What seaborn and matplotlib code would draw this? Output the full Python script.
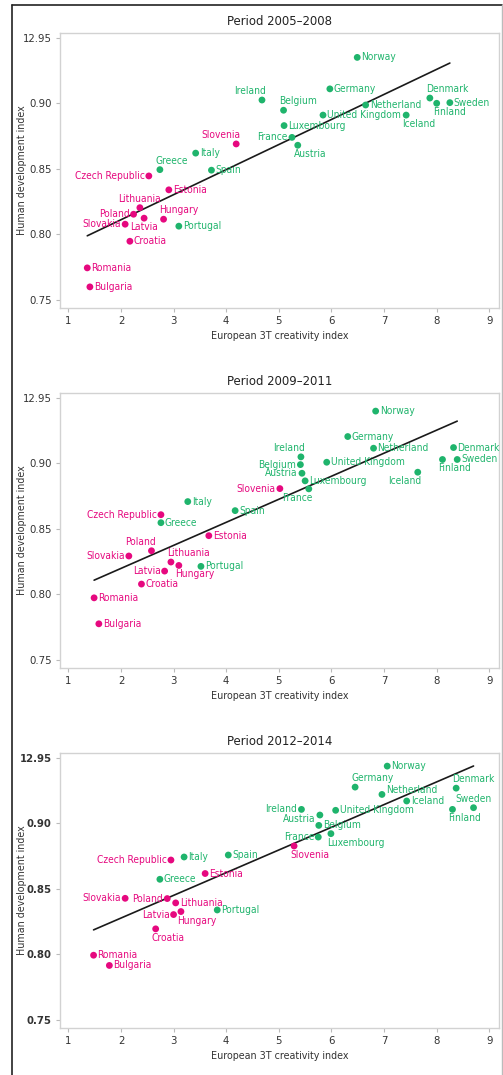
import matplotlib
matplotlib.use("Agg")
import matplotlib.pyplot as plt
from matplotlib import font_manager
from matplotlib.lines import Line2D
import pandas as pd
import seaborn as sns

# data
countries = ["Norway", "Germany", "Ireland", "Belgium", "Netherland", "United Kingdom",
             "Luxembourg", "France", "Austria", "Denmark", "Finland", "Sweden", "Iceland",
             "Italy", "Spain", "Greece", "Portugal", "Slovenia", "Czech Republic", "Estonia",
             "Lithuania", "Poland", "Latvia", "Hungary", "Slovakia", "Croatia", "Romania",
             "Bulgaria"]
new_members = ["Slovenia", "Czech Republic", "Estonia", "Lithuania", "Poland", "Latvia",
               "Hungary", "Slovakia", "Croatia", "Romania", "Bulgaria"]

periods = ["Period 2005\u20132008", "Period 2009\u20132011", "Period 2012\u20132014"]

x_2005 = [6.49, 5.97, 4.68, 5.09, 6.65, 5.84, 5.10, 5.25, 5.36, 7.87, 8.00, 8.25, 7.42,
          3.42, 3.72, 2.74, 3.10, 4.19, 2.53, 2.91, 2.36, 2.24, 2.44, 2.81, 2.08, 2.17, 1.36, 1.41]
y_2005 = [0.935, 0.911, 0.9025, 0.8947, 0.8987, 0.891, 0.883, 0.874, 0.868, 0.904, 0.900, 0.9005, 0.891,
          0.862, 0.849, 0.8494, 0.8063, 0.869, 0.8446, 0.834, 0.8204, 0.8154, 0.8124, 0.8116, 0.8078,
          0.7948, 0.7745, 0.760]

x_2009 = [6.84, 6.31, 5.42, 5.41, 6.80, 5.91, 5.50, 5.57, 5.44, 8.32, 8.11, 8.39, 7.64,
          3.27, 4.17, 2.76, 3.52, 5.02, 2.76, 3.67, 2.95, 2.58, 2.83, 3.10, 2.15, 2.39, 1.49, 1.58]
y_2009 = [0.9398, 0.9204, 0.9049, 0.899, 0.9115, 0.9008, 0.8866, 0.8805, 0.8924, 0.912, 0.9029, 0.9029, 0.8932,
          0.8708, 0.8639, 0.8547, 0.8214, 0.8807, 0.8608, 0.8448, 0.8247, 0.8333, 0.8178, 0.8221, 0.8293,
          0.8079, 0.7974, 0.7776]

x_2012 = [7.06, 6.45, 5.43, 5.76, 6.96, 6.08, 5.99, 5.75, 5.78, 8.37, 8.30, 8.70, 7.43,
          3.20, 4.04, 2.74, 3.83, 5.29, 2.95, 3.60, 3.04, 2.88, 3.00, 3.14, 2.08, 2.66, 1.48, 1.78]
y_2012 = [0.9436, 0.9276, 0.9106, 0.8984, 0.922, 0.9099, 0.8921, 0.8895, 0.9063, 0.9268, 0.9106, 0.9119, 0.917,
          0.8743, 0.8758, 0.8573, 0.8339, 0.8827, 0.872, 0.8617, 0.8393, 0.8426, 0.8304, 0.8327, 0.8428,
          0.8195, 0.7994, 0.7916]

x_ticks = [1, 2, 3, 4, 5, 6, 7, 8, 9]
y_ticks = [0.75, 0.80, 0.85, 0.90, 0.95]
y_ticklabels = ["0.75", "0.80", "0.85", "0.90", "12.95"]

# where each label sits relative to its dot
place_2005 = ["r", "r", "al", "ar", "r", "r", "r", "l", "br", "ar", "br", "r", "br",
              "r", "r", "ar", "r", "al", "l", "r", "a", "l", "b", "ar", "l", "r", "r", "r"]
place_2009 = ["r", "r", "al", "l", "r", "r", "r", "bl", "l", "r", "br", "r", "bl",
              "r", "r", "r", "r", "l", "l", "r", "ar", "al", "l", "br", "l", "r", "r", "r"]
place_2012 = ["r", "ar", "l", "r", "ru", "r", "br", "l", "lb", "ar", "br", "a", "r",
              "r", "r", "r", "r", "br", "l", "r", "r", "l", "l", "br", "l", "br", "r", "r"]

offsets = {"r": (4, 0, "left", "center"), "l": (-4, 0, "right", "center"),
           "ru": (4, 4, "left", "center"), "lb": (-4, -4, "right", "center"),
           "a": (0, 4, "center", "bottom"), "b": (0, -4, "center", "top"),
           "ar": (-4, 4, "left", "bottom"), "al": (4, 4, "right", "bottom"),
           "br": (-4, -4, "left", "top"), "bl": (4, -4, "right", "top")}

green = "#1fb46c"
pink = "#e6087f"
palette = {"old": green, "new": pink}

sns.set_theme(style="white")

# the reference uses a condensed face; take one if there is one installed
cond = [f for f in font_manager.fontManager.ttflist
        if f.style == "normal" and (str(f.stretch) in ("condensed", "semi-condensed", "extra-condensed")
                                    or "Narrow" in f.name or "Condensed" in f.name)]
pref = ["Liberation", "DejaVu", "Roboto", "Noto", "Open"]
cond.sort(key=lambda f: next((i for i, p in enumerate(pref) if f.name.startswith(p)), 99))
if cond:
    fam = cond[0].name
    plt.rcParams["font.stretch"] = cond[0].stretch
    grow = 1.08
else:
    fam = "Roboto"
    grow = 1.13   # wider face: trade a little width for height
plt.rcParams["font.family"] = [fam, "DejaVu Sans"]

W, H = 503, 1075
fig = plt.figure(figsize=(W / 100, H / 100), dpi=100)
renderer = fig.canvas.get_renderer()


def fit_size(text, target_px):
    t = fig.text(0, 0, text, fontsize=10)
    w = t.get_window_extent(renderer).width
    t.remove()
    return 10 * target_px / w * grow


lab_fs = (fit_size("Norway", 32) + fit_size("United Kingdom", 68)) / 2
title_fs = fit_size("Period 2005\u20132008", 98)
tick_fs = (fit_size("12.95", 28) + fit_size("0.85", 20)) / 2
axis_fs = fit_size("European 3T creativity index", 128)

panels = [(x_2005, y_2005, place_2005, 33), (x_2009, y_2009, place_2009, 393),
          (x_2012, y_2012, place_2012, 753)]

for i, (xs, ys, places, top) in enumerate(panels):
    ax = fig.add_axes([60 / W, 1 - (top + 275) / H, 439 / W, 275 / H])
    df = pd.DataFrame({"country": countries, "x": xs, "y": ys})
    df["group"] = ["new" if c in new_members else "old" for c in countries]

    sns.regplot(data=df, x="x", y="y", scatter=False, ci=None, truncate=True,
                color="#1a1a1a", line_kws={"lw": 1.2}, ax=ax)
    sns.scatterplot(data=df, x="x", y="y", hue="group", palette=palette, s=24,
                    linewidth=0, legend=False, ax=ax, zorder=3)

    for c, x, y, g, p in zip(df["country"], df["x"], df["y"], df["group"], places):
        dx, dy, ha, va = offsets[p]
        ax.annotate(c, (x, y), xytext=(dx, dy), textcoords="offset pixels",
                    ha=ha, va=va, fontsize=lab_fs, color=palette[g])

    ax.set_xlim(0.842, 9.184)
    ax.set_ylim(0.7439, 0.9536)
    ax.set_xticks(x_ticks)
    ax.set_yticks(y_ticks)
    ax.set_yticklabels(y_ticklabels, fontweight="bold" if i == 2 else "normal")
    ax.tick_params(axis="both", length=3, width=0.8, color="#bbbbbb", pad=3,
                   labelsize=tick_fs, labelcolor="#333333", bottom=True, left=True)
    for s in ax.spines.values():
        s.set_color("#d2d2d2")
        s.set_linewidth(1.0)

    ax.set_title(periods[i], fontsize=title_fs, color="#222222", pad=6)
    ax.set_xlabel("European 3T creativity index", fontsize=axis_fs, color="#333333")
    ax.set_ylabel("Human development index", fontsize=axis_fs, color="#333333")
    ax.xaxis.set_label_coords(0.5, -0.085)
    ax.yaxis.set_label_coords(-0.075, 0.5)

# outer frame
fig.add_artist(Line2D([12 / W, 12 / W], [0, 1 - 5 / H], color="#222222", lw=1.2))
fig.add_artist(Line2D([12 / W, 502 / W], [1 - 5 / H, 1 - 5 / H], color="#222222", lw=1.2))
fig.add_artist(Line2D([502 / W, 502 / W], [0, 1 - 5 / H], color="#bbbbbb", lw=1.0))

fig.savefig("out.png", dpi=100)
